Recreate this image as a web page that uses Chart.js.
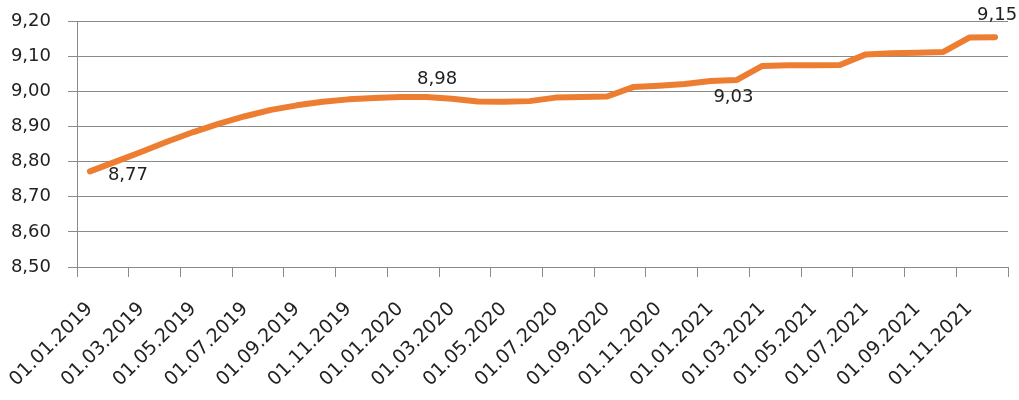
<!DOCTYPE html>
<html>
<head>
<meta charset="utf-8">
<script src="https://cdn.jsdelivr.net/npm/chart.js@4/dist/chart.umd.min.js"></script>
<style>
  body { margin: 0; background: #fff; }
  #box { width: 1019px; height: 400px; position: relative; }
</style>
</head>
<body>
<div id="box"><canvas id="myChart"></canvas></div>
<script>
// meses (categorias)
const months = [
  '01.01.2019','01.02.2019','01.03.2019','01.04.2019','01.05.2019','01.06.2019',
  '01.07.2019','01.08.2019','01.09.2019','01.10.2019','01.11.2019','01.12.2019',
  '01.01.2020','01.02.2020','01.03.2020','01.04.2020','01.05.2020','01.06.2020',
  '01.07.2020','01.08.2020','01.09.2020','01.10.2020','01.11.2020','01.12.2020',
  '01.01.2021','01.02.2021','01.03.2021','01.04.2021','01.05.2021','01.06.2021',
  '01.07.2021','01.08.2021','01.09.2021','01.10.2021','01.11.2021','01.12.2021'
];

// valores de la serie
const values = [
  8.772, 8.800, 8.828, 8.857, 8.884, 8.908,
  8.929, 8.947, 8.960, 8.970, 8.977, 8.981,
  8.984, 8.984, 8.979, 8.971, 8.970, 8.972,
  8.982, 8.984, 8.985, 9.012, 9.016, 9.021,
  9.029, 9.032, 9.072, 9.074, 9.074, 9.075,
  9.105, 9.108, 9.110, 9.112, 9.153, 9.154
];

// puntos con etiqueta de valor
const labeledPoints = [0, 13, 25, 35];

// eje y
const yMin = 8.5;
const yMax = 9.2;
const yStep = 0.1;

const FONT = "'DejaVu Sans', sans-serif";
const GRID = '#8a8a8a';

function fmt(v) {
  return v.toFixed(2).replace('.', ',');
}

// dibuja las etiquetas de valor
const valueLabels = {
  id: 'valueLabels',
  afterDatasetsDraw(chart) {
    const offsets = { 0: [38, 4], 13: [11, -18], 25: [-3, 17], 35: [2, -22] };
    const meta = chart.getDatasetMeta(0);
    const ctx = chart.ctx;
    ctx.save();
    ctx.font = '18px ' + FONT;
    ctx.fillStyle = '#222';
    ctx.textAlign = 'center';
    ctx.textBaseline = 'middle';
    labeledPoints.forEach(i => {
      const p = meta.data[i];
      const o = offsets[i] || [0, -18];
      ctx.fillText(fmt(values[i]), p.x + o[0], p.y + o[1]);
    });
    ctx.restore();
  }
};

const ctx = document.getElementById('myChart').getContext('2d');
const chart = new Chart(ctx, {
  type: 'line',
  data: {
    labels: months,
    datasets: [{
      data: values,
      borderColor: '#ED7D31',
      borderWidth: 6,
      borderCapStyle: 'round',
      borderJoinStyle: 'round',
      pointRadius: 0,
      tension: 0,
      fill: false
    }]
  },
  options: {
    responsive: true,
    maintainAspectRatio: false,
    animation: false,
    layout: { padding: { left: 0, top: 21, right: 11, bottom: 0 } },
    plugins: {
      legend: { display: false },
      tooltip: { enabled: false }
    },
    scales: {
      x: {
        offset: true,
        grid: {
          offset: true,
          drawOnChartArea: false,
          drawTicks: true,
          tickLength: 10,
          color: c => (c.index === undefined || c.index % 2 === 0) ? GRID : 'rgba(0,0,0,0)'
        },
        border: { display: true, color: GRID, width: 1 },
        ticks: {
          autoSkip: false,
          minRotation: 45,
          maxRotation: 45,
          padding: 21,
          color: '#222',
          font: { family: FONT, size: 19 },
          callback: function (val, i) { return i % 2 === 0 ? months[i] : ''; }
        },
        afterFit: s => { s.height = 133; s.paddingLeft = 0; s.paddingRight = 0; }
      },
      y: {
        min: yMin,
        max: yMax,
        grid: { color: GRID, lineWidth: 1, tickLength: 9 },
        border: { display: true, color: GRID, width: 1 },
        ticks: {
          stepSize: yStep,
          padding: 17,
          color: '#222',
          font: { family: FONT, size: 18 },
          callback: v => fmt(v)
        },
        afterFit: s => { s.width = 77; s.paddingTop = 0; s.paddingBottom = 0; }
      }
    }
  },
  plugins: [valueLabels]
});
</script>
</body>
</html>
